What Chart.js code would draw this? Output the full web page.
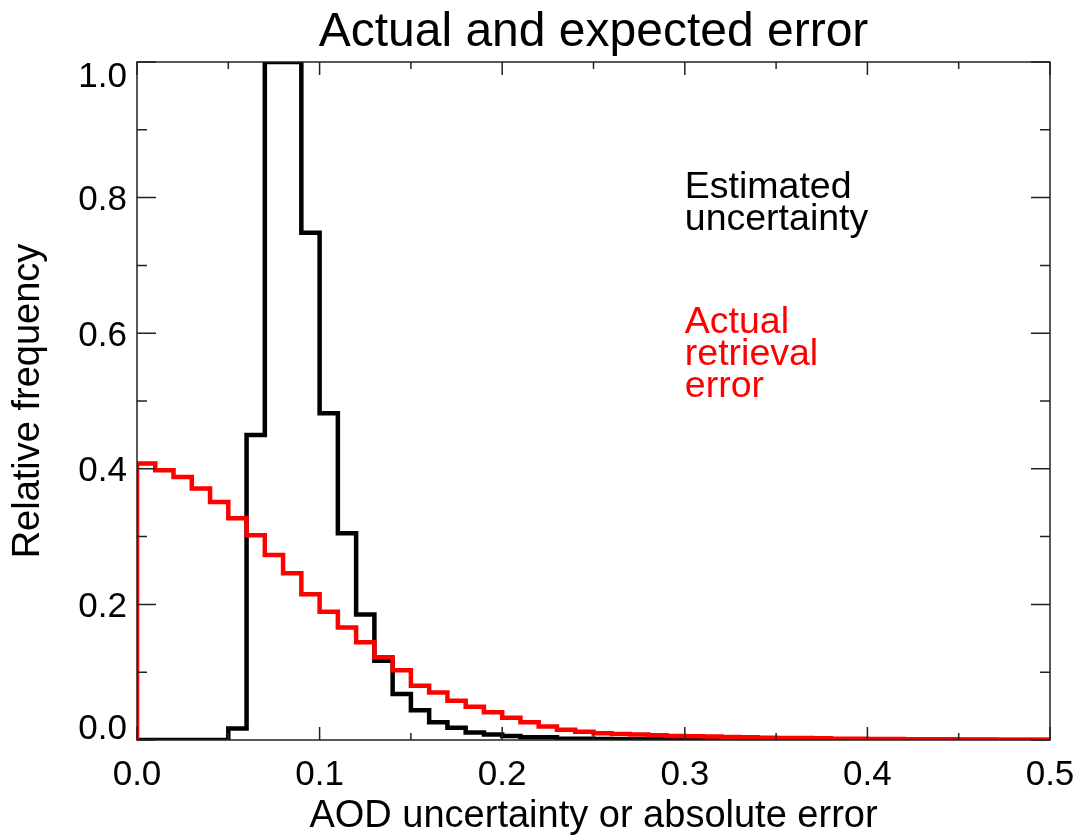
<!DOCTYPE html>
<html>
<head>
<meta charset="utf-8">
<title>Actual and expected error</title>
<script src="https://cdn.jsdelivr.net/npm/chart.js@4.4.1/dist/chart.umd.min.js"></script>
<style>
  html,body{margin:0;padding:0;background:#fff;}
  canvas{display:block;}
</style>
</head>
<body>
<canvas id="chart" width="1080" height="836"></canvas>
<script>
// histogram bin edges (AOD, bin width 0.01)
const binEdges=[0.00,0.01,0.02,0.03,0.04,0.05,0.06,0.07,0.08,0.09,
  0.10,0.11,0.12,0.13,0.14,0.15,0.16,0.17,0.18,0.19,
  0.20,0.21,0.22,0.23,0.24,0.25,0.26,0.27,0.28,0.29,
  0.30,0.31,0.32,0.33,0.34,0.35,0.36,0.37,0.38,0.39,
  0.40,0.41,0.42,0.43,0.44,0.45,0.46,0.47,0.48,0.49,0.50];

// relative frequency per bin
const estimatedUncertainty=[0,0,0,0,0,0.017,0.45,1.0,1.0,0.748,
  0.482,0.305,0.185,0.117,0.068,0.044,0.026,0.018,0.011,0.008,
  0.006,0.004,0.004,0.002,0.002,0.0015,0.001,0.001,0.001,0.0005,
  0,0,0,0,0,0,0,0,0,0,
  0,0,0,0,0,0,0,0,0,0];
const actualError=[0.408,0.398,0.388,0.371,0.351,0.327,0.302,0.273,0.246,0.215,
  0.189,0.166,0.144,0.122,0.103,0.080,0.070,0.058,0.049,0.041,
  0.033,0.026,0.020,0.015,0.012,0.010,0.009,0.008,0.007,0.006,
  0.0055,0.005,0.0045,0.004,0.0035,0.003,0.003,0.0025,0.002,0.002,
  0.0015,0.0015,0.001,0.001,0.001,0.0008,0.0006,0.0005,0.0004,0.0003];

const xTicks=[0.0,0.1,0.2,0.3,0.4,0.5];
const yTicks=[0.0,0.2,0.4,0.6,0.8,1.0];

const titleText="Actual and expected error";
const xTitle="AOD uncertainty or absolute error";
const yTitle="Relative frequency";
const notes=[
  {lines:["Estimated","uncertainty"],x:0.30,y:0.80,color:"#000000"},
  {lines:["Actual","retrieval","error"],x:0.30,y:0.60,color:"#ff0000"}
];

const FONT="'Liberation Sans', Arial, Helvetica, sans-serif";

function stepPoints(values,startFromZero){
  const pts=[];
  if(startFromZero) pts.push({x:binEdges[0],y:0});
  values.forEach((v,i)=>pts.push({x:binEdges[i],y:v}));
  pts.push({x:binEdges[binEdges.length-1],y:values[values.length-1]});
  return pts;
}

// frame + inward ticks on all four sides (IDL style)
const framePlugin={
  id:'frame',
  beforeDraw(chart){
    const ctx=chart.ctx;
    ctx.save();
    ctx.fillStyle='#fff';
    ctx.fillRect(0,0,chart.width,chart.height);
    ctx.restore();
  },
  afterDatasetsDraw(chart){
    const {ctx,chartArea:a,scales:{x,y}}=chart;
    ctx.save();
    ctx.strokeStyle='#222';
    ctx.lineWidth=1.5;
    ctx.strokeRect(a.left,a.top,a.right-a.left,a.bottom-a.top);
    ctx.beginPath();
    for(let i=0;i<=10;i++){
      const px=x.getPixelForValue(i*0.05);
      const len=i%2===0?13:7;
      ctx.moveTo(px,a.bottom);ctx.lineTo(px,a.bottom-len);
      ctx.moveTo(px,a.top);ctx.lineTo(px,a.top+len);
    }
    for(let i=0;i<=10;i++){
      const py=y.getPixelForValue(i*0.1);
      const len=i%2===0?19:10;
      ctx.moveTo(a.left,py);ctx.lineTo(a.left+len,py);
      ctx.moveTo(a.right,py);ctx.lineTo(a.right-len,py);
    }
    ctx.stroke();
    ctx.restore();
  },
  afterDraw(chart){
    const {ctx,chartArea:a,scales:{x,y}}=chart;
    ctx.save();
    ctx.fillStyle='#000';
    ctx.textAlign='center';
    ctx.textBaseline='alphabetic';
    ctx.font='48px '+FONT;
    ctx.fillText(titleText,(a.left+a.right)/2,46);

    // y tick labels; the end labels are kept inside the axis span
    ctx.textAlign='right';
    ctx.font='35px '+FONT;
    yTicks.forEach((v,i)=>{
      const py=y.getPixelForValue(v);
      let base=py+12.5;
      if(i===0) base=py-1;
      if(i===yTicks.length-1) base=py+25;
      ctx.fillText(v.toFixed(1),a.left-10,base);
    });

    ctx.textAlign='left';
    ctx.font='37.5px '+FONT;
    notes.forEach(n=>{
      ctx.fillStyle=n.color;
      const px=x.getPixelForValue(n.x);
      const py=y.getPixelForValue(n.y);
      n.lines.forEach((t,k)=>ctx.fillText(t,px,py+k*32));
    });
    ctx.restore();
  }
};

new Chart(document.getElementById('chart').getContext('2d'),{
  type:'line',
  data:{
    datasets:[
      {
        label:'Actual retrieval error',
        data:stepPoints(actualError,true),
        borderColor:'#ff0000',
        borderWidth:4.5,
        stepped:true,
        pointRadius:0,
        fill:false,
        order:0
      },
      {
        label:'Estimated uncertainty',
        data:stepPoints(estimatedUncertainty,false),
        borderColor:'#000000',
        borderWidth:4.5,
        stepped:true,
        pointRadius:0,
        fill:false,
        order:1
      }
    ]
  },
  options:{
    responsive:false,
    animation:false,
    layout:{padding:{top:62,right:30,left:0,bottom:0}},
    plugins:{legend:{display:false},tooltip:{enabled:false}},
    scales:{
      x:{
        type:'linear',
        min:0,max:0.5,
        afterFit(s){s.height=96;s.paddingLeft=0;s.paddingRight=0;},
        afterBuildTicks(s){s.ticks=xTicks.map(v=>({value:v}));},
        grid:{display:false,drawTicks:false},
        border:{display:false},
        ticks:{
          padding:14,
          color:'#000',
          font:{family:FONT,size:35},
          callback:v=>v.toFixed(1)
        },
        title:{
          display:true,
          text:xTitle,
          color:'#000',
          font:{family:FONT,size:38,lineHeight:1},
          padding:{top:0,bottom:0}
        }
      },
      y:{
        type:'linear',
        min:0,max:1,
        afterFit(s){s.width=137;s.paddingTop=0;s.paddingBottom=0;},
        afterBuildTicks(s){s.ticks=yTicks.map(v=>({value:v}));},
        grid:{display:false,drawTicks:false},
        border:{display:false},
        ticks:{display:false},
        title:{
          display:true,
          text:yTitle,
          color:'#000',
          font:{family:FONT,size:38,lineHeight:1.2},
          padding:{top:6,bottom:0}
        }
      }
    }
  },
  plugins:[framePlugin]
});
</script>
</body>
</html>
